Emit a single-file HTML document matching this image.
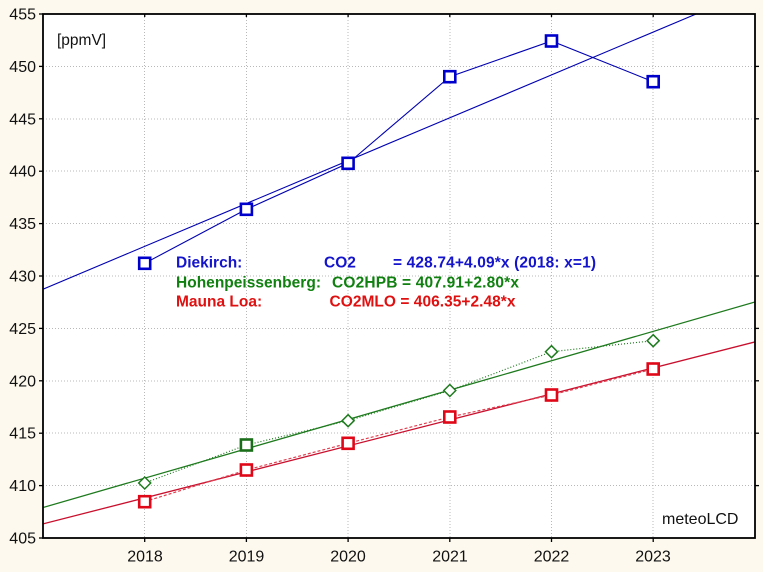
<!DOCTYPE html>
<html>
<head>
<meta charset="utf-8">
<style>
html,body{margin:0;padding:0;background:#fdf9ee;}
svg{display:block;}
text{font-family:"Liberation Sans",Arial,sans-serif;}
</style>
</head>
<body>
<svg width="763" height="572" viewBox="0 0 763 572" xmlns="http://www.w3.org/2000/svg">
<defs>
<clipPath id="pa"><rect x="43" y="14" width="712" height="524"/></clipPath>
</defs>
<rect x="0" y="0" width="763" height="572" fill="#fdf9ee"/>
<rect x="43" y="14" width="712" height="524" fill="#ffffff"/>
<!-- grid -->
<g stroke="#b8b8b8" stroke-width="1" stroke-dasharray="1,2" shape-rendering="crispEdges">
<line x1="43" y1="485.6" x2="755" y2="485.6"/>
<line x1="43" y1="433.2" x2="755" y2="433.2"/>
<line x1="43" y1="380.8" x2="755" y2="380.8"/>
<line x1="43" y1="328.4" x2="755" y2="328.4"/>
<line x1="43" y1="276" x2="755" y2="276"/>
<line x1="43" y1="223.6" x2="755" y2="223.6"/>
<line x1="43" y1="171.2" x2="755" y2="171.2"/>
<line x1="43" y1="118.8" x2="755" y2="118.8"/>
<line x1="43" y1="66.4" x2="755" y2="66.4"/>
<line x1="144.7" y1="14" x2="144.7" y2="538"/>
<line x1="246.4" y1="14" x2="246.4" y2="538"/>
<line x1="348.1" y1="14" x2="348.1" y2="538"/>
<line x1="449.8" y1="14" x2="449.8" y2="538"/>
<line x1="551.5" y1="14" x2="551.5" y2="538"/>
<line x1="653.2" y1="14" x2="653.2" y2="538"/>
</g>
<g clip-path="url(#pa)" fill="none">
<!-- regression lines -->
<line x1="43" y1="289.2" x2="755" y2="-10.8" stroke="#0000b0" stroke-width="1.1"/>
<line x1="43" y1="507.5" x2="755" y2="302" stroke="#1e7a1e" stroke-width="1.3"/>
<line x1="43" y1="523.9" x2="755" y2="341.9" stroke="#c8102e" stroke-width="1.3"/>
<!-- data lines -->
<polyline points="144.7,263.3 246.4,209.3 348.1,163.3 449.8,76.7 551.5,41 653.2,81.7" stroke="#0000b0" stroke-width="1.1"/>
<polyline points="144.7,483 246.4,445 348.1,420.7 449.8,390.5 551.5,351.7 653.2,340.7" stroke="#1e7a1e" stroke-width="1.2" stroke-dasharray="1,2"/>
<polyline points="144.7,501.7 246.4,470 348.1,443.3 449.8,417 551.5,395 653.2,369" stroke="#e04050" stroke-width="1.2" stroke-dasharray="3,2"/>
</g>
<!-- markers blue -->
<g fill="#ffffff" stroke="#0000cc" stroke-width="2.6">
<rect x="139.2" y="257.8" width="11" height="11"/>
<rect x="240.9" y="203.8" width="11" height="11"/>
<rect x="342.6" y="157.8" width="11" height="11"/>
<rect x="444.3" y="71.2" width="11" height="11"/>
<rect x="546" y="35.5" width="11" height="11"/>
<rect x="647.7" y="76.2" width="11" height="11"/>
</g>
<!-- markers red -->
<g fill="#ffffff" stroke="#e00818" stroke-width="2.6">
<rect x="139.2" y="496.2" width="11" height="11"/>
<rect x="240.9" y="464.5" width="11" height="11"/>
<rect x="342.6" y="437.8" width="11" height="11"/>
<rect x="444.3" y="411.5" width="11" height="11"/>
<rect x="546" y="389.5" width="11" height="11"/>
<rect x="647.7" y="363.5" width="11" height="11"/>
</g>
<!-- markers green -->
<g fill="#ffffff" stroke="#1e7a1e" stroke-width="1.5">
<polygon points="144.7,477 150.7,483 144.7,489 138.7,483"/>
<polygon points="348.1,414.7 354.1,420.7 348.1,426.7 342.1,420.7"/>
<polygon points="449.8,384.5 455.8,390.5 449.8,396.5 443.8,390.5"/>
<polygon points="551.5,345.7 557.5,351.7 551.5,357.7 545.5,351.7"/>
<polygon points="653.2,334.7 659.2,340.7 653.2,346.7 647.2,340.7"/>
</g>
<rect x="240.9" y="439.5" width="11" height="11" fill="#ffffff" stroke="#1a6e1a" stroke-width="2.6"/>
<!-- axes frame -->
<rect x="43" y="14" width="712" height="524" fill="none" stroke="#000" stroke-width="1.8"/>
<!-- ticks -->
<g stroke="#000" stroke-width="1.3">
<line x1="39" y1="14" x2="43" y2="14"/>
<line x1="39" y1="66.4" x2="43" y2="66.4"/>
<line x1="39" y1="118.8" x2="43" y2="118.8"/>
<line x1="39" y1="171.2" x2="43" y2="171.2"/>
<line x1="39" y1="223.6" x2="43" y2="223.6"/>
<line x1="39" y1="276" x2="43" y2="276"/>
<line x1="39" y1="328.4" x2="43" y2="328.4"/>
<line x1="39" y1="380.8" x2="43" y2="380.8"/>
<line x1="39" y1="433.2" x2="43" y2="433.2"/>
<line x1="39" y1="485.6" x2="43" y2="485.6"/>
<line x1="39" y1="538" x2="43" y2="538"/>
<line x1="755" y1="66.4" x2="759" y2="66.4"/>
<line x1="755" y1="118.8" x2="759" y2="118.8"/>
<line x1="755" y1="171.2" x2="759" y2="171.2"/>
<line x1="755" y1="223.6" x2="759" y2="223.6"/>
<line x1="755" y1="276" x2="759" y2="276"/>
<line x1="755" y1="328.4" x2="759" y2="328.4"/>
<line x1="755" y1="380.8" x2="759" y2="380.8"/>
<line x1="755" y1="433.2" x2="759" y2="433.2"/>
<line x1="755" y1="485.6" x2="759" y2="485.6"/>
<line x1="144.7" y1="538" x2="144.7" y2="542"/>
<line x1="246.4" y1="538" x2="246.4" y2="542"/>
<line x1="348.1" y1="538" x2="348.1" y2="542"/>
<line x1="449.8" y1="538" x2="449.8" y2="542"/>
<line x1="551.5" y1="538" x2="551.5" y2="542"/>
<line x1="653.2" y1="538" x2="653.2" y2="542"/>
<line x1="144.7" y1="14" x2="144.7" y2="17"/>
<line x1="246.4" y1="14" x2="246.4" y2="17"/>
<line x1="348.1" y1="14" x2="348.1" y2="17"/>
<line x1="449.8" y1="14" x2="449.8" y2="17"/>
<line x1="551.5" y1="14" x2="551.5" y2="17"/>
<line x1="653.2" y1="14" x2="653.2" y2="17"/>
</g>
<!-- y labels -->
<g font-size="16" fill="#111" text-anchor="end">
<text x="36" y="19.5">455</text>
<text x="36" y="71.9">450</text>
<text x="36" y="124.3">445</text>
<text x="36" y="176.7">440</text>
<text x="36" y="229.1">435</text>
<text x="36" y="281.5">430</text>
<text x="36" y="333.9">425</text>
<text x="36" y="386.3">420</text>
<text x="36" y="438.7">415</text>
<text x="36" y="491.1">410</text>
<text x="36" y="543.5">405</text>
</g>
<!-- x labels -->
<g font-size="16" fill="#111" text-anchor="middle">
<text x="145" y="561.5">2018</text>
<text x="246.5" y="561.5">2019</text>
<text x="348" y="561.5">2020</text>
<text x="450" y="561.5">2021</text>
<text x="551.5" y="561.5">2022</text>
<text x="653" y="561.5">2023</text>
</g>
<text x="57" y="45" font-size="15.5" fill="#111">[ppmV]</text>
<text x="662" y="524" font-size="16" fill="#111">meteoLCD</text>
<!-- legend -->
<g font-size="15.5" font-weight="bold">
<text x="176" y="267.5" fill="#1414cc">Diekirch:</text>
<text x="324" y="267.5" fill="#1414cc">CO2</text>
<text x="393" y="267.5" fill="#1414cc" textLength="203" lengthAdjust="spacing">= 428.74+4.09*x (2018: x=1)</text>
<text x="176" y="287.5" fill="#108010" textLength="145" lengthAdjust="spacing">Hohenpeissenberg:</text>
<text x="332" y="287.5" fill="#108010" textLength="187" lengthAdjust="spacing">CO2HPB = 407.91+2.80*x</text>
<text x="176" y="306.5" fill="#e01010">Mauna Loa:</text>
<text x="329.5" y="306.5" fill="#e01010" textLength="186" lengthAdjust="spacing">CO2MLO = 406.35+2.48*x</text>
</g>
</svg>
</body>
</html>
